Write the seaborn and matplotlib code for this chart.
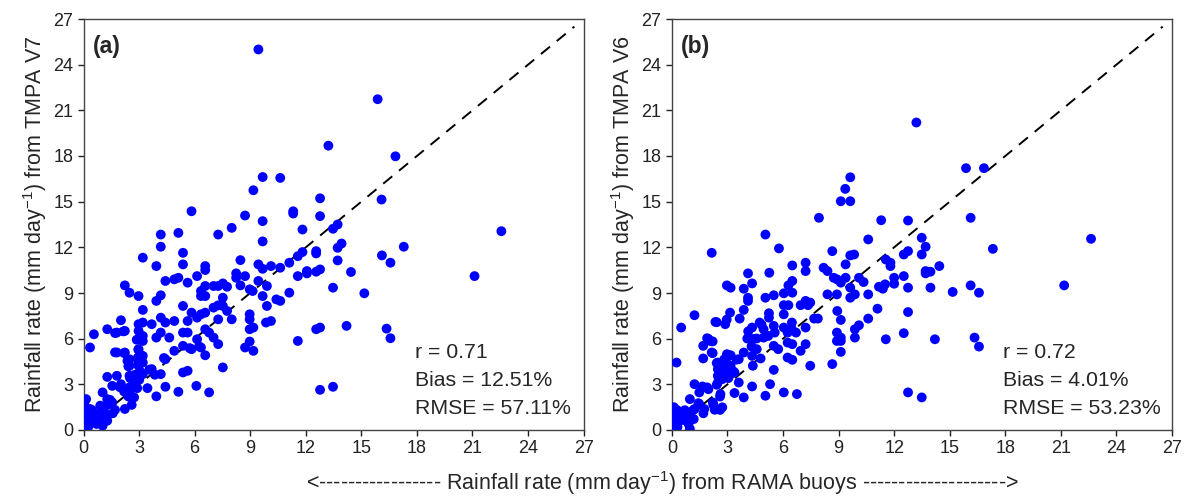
import numpy as np
import pandas as pd
import matplotlib
matplotlib.use("Agg")
import matplotlib.pyplot as plt
import seaborn as sns

# RAMA buoy (x) vs TMPA V7 (y), panel (a)
v7_x = [9.44, 15.88, 13.22, 16.84, 22.56, 21.11, 17.29, 16.09, 16.11, 16.57, 16.36, 16.57, 15.16, 14.44,
        14.2, 13.47, 12.77, 12.77, 12.56, 13.47, 13.72, 13.72, 13.93, 13.47, 13.72, 12.77, 12.77, 12.56,
        12.56, 12.77, 12.56, 12.06, 12.06, 11.82, 11.57, 11.82, 11.57, 11.32, 11.32, 11.11, 11.11, 11.57,
        10.62, 10.62, 10.62, 10.41, 10.12, 10.12, 9.85, 9.9, 9.9, 9.67, 9.67, 9.67, 9.67, 9.67, 9.44,
        9.17, 9.44, 8.97, 9.13, 8.97, 8.97, 8.97, 9.17, 8.97, 9.17, 8.72, 8.72, 8.72, 8.47, 8.47, 8.24,
        8.24, 8.0, 8.0, 7.75, 7.75, 7.52, 7.52, 7.52, 7.52, 7.27, 7.27, 7.27, 7.27, 7.27, 7.02, 7.02,
        7.02, 6.78, 6.78, 6.57, 6.57, 6.57, 6.57, 6.57, 6.57, 6.57, 6.34, 6.34, 6.34, 6.34, 6.13, 6.13,
        6.13, 6.09, 5.83, 5.83, 5.83, 5.62, 5.62, 5.62, 5.62, 5.37, 5.37, 5.37, 5.37, 5.37, 5.37, 5.12,
        5.12, 5.12, 4.9, 4.9, 4.9, 4.63, 4.42, 4.42, 4.42, 4.42, 4.17, 4.17, 4.17, 4.17, 4.17, 4.17,
        3.93, 3.93, 3.93, 3.93, 3.68, 3.68, 3.45, 3.2, 3.2, 3.2, 3.2, 3.2, 3.2, 3.2, 3.2,
        3.55, 3.85, 4.34, 6.24, 5.73,
        2.97, 2.48, 2.23, 2.02, 2.97, 2.97, 2.97, 2.97, 2.97, 2.97, 2.97, 3.05, 2.78, 2.73, 2.73, 2.48,
        2.48, 2.48, 2.48, 2.48, 2.23, 2.23, 2.23, 2.02, 1.8, 1.8, 1.8, 1.55, 1.55, 1.28, 1.28, 1.28,
        1.28, 1.28, 1.03, 1.03, 1.03, 0.56, 0.35, 0.35, 0.56, 0.14, 0.14, 0.14, 2.6, 2.42, 2.19, 1.97,
        2.51, 2.42, 2.37, 2.19, 1.7, 2.15, 1.7, 0.81, 0.99, 0.18, 0.36, 0.18, 0.09, 0.54, 1.58, 1.7,
        1.43, 1.29, 1.08, 0.45, 2.87, 2.96, 2.92, 2.96, 3.01, 2.9, 0.05, 0.25, 0.6, 0.7, 0.9]
v7_y = [25.0, 21.73, 18.68, 17.98, 13.06, 10.11, 12.04, 15.14, 11.47, 10.99, 6.66, 6.03, 8.98, 10.38,
        6.84, 2.84, 2.64, 6.73, 6.62, 9.35, 11.14, 11.97, 12.25, 13.22, 13.5, 14.05, 15.22, 11.75,
        11.6, 10.55, 10.4, 10.44, 10.29, 13.17, 11.42, 11.69, 10.11, 14.37, 14.22, 10.99, 9.02, 5.85,
        16.56, 10.66, 8.48, 8.58, 10.77, 7.16, 7.06, 9.46, 8.15, 16.62, 13.72, 12.39, 10.59, 8.8, 10.88,
        15.75, 9.79, 9.24, 9.13, 7.6, 7.27, 6.62, 6.73, 5.81, 5.2, 5.42, 14.09, 10.11, 11.16, 9.5, 10.29,
        10.0, 13.28, 7.27, 7.82, 9.41, 9.63, 8.69, 8.15, 4.11, 12.84, 9.46, 8.19, 7.27, 5.64, 8.04, 6.07,
        9.46, 2.47, 6.4, 10.77, 10.51, 9.46, 8.8, 7.71, 6.62, 4.91, 9.13, 8.8, 7.6, 5.42, 10.11, 7.38,
        5.96, 2.9, 14.37, 7.71, 5.31, 9.68, 7.16, 6.4, 3.89, 11.64, 10.88, 8.15, 6.4, 5.53, 3.78, 12.95,
        10.0, 2.51, 9.9, 7.16, 5.2, 6.07, 9.79, 7.06, 4.65, 2.84, 12.84, 12.04, 8.85, 7.38, 6.4, 3.67,
        10.77, 8.48, 6.07, 2.21, 6.95, 4.0, 2.75, 11.32, 7.89, 7.06, 6.18, 5.85, 4.87, 4.43, 3.67,
        3.96, 3.63, 4.73, 5.49, 5.38,
        8.8, 9.02, 9.5, 7.21, 6.95, 6.51, 5.96, 5.31, 4.76, 4.22, 3.34, 3.85, 3.63, 2.9, 2.14, 4.65,
        4.22, 3.56, 2.8, 2.47, 6.51, 5.09, 1.38, 3.01, 5.09, 6.4, 3.56, 2.9, 1.81, 6.62, 3.49, 2.03,
        0.94, 0.61, 2.47, 0.94, 0.28, 6.29, 5.42, 1.38, 0.83, 2.03, 1.38, 0.39, 1.65, 2.2, 2.53, 2.81,
        3.41, 4.18, 4.55, 5.05, 5.1, 6.48, 6.37, 0.99, 0.66, 0.99, 0.66, 0.33, 0.11, 0.88, 1.1, 1.32,
        1.98, 1.65, 1.32, 1.32, 5.93, 5.27, 4.73, 4.4, 3.3, 2.75, 1.7, 0.2, 1.1, 0.4, 1.6]

# RAMA buoy (x) vs TMPA V6 (y), panel (b)
v6_x = [13.2, 15.88, 16.85, 9.63, 9.36, 9.12, 9.63, 16.13, 7.94, 11.3, 12.75, 13.49, 22.63, 5.05, 10.6,
        17.33, 13.7, 5.78, 8.66, 9.84, 9.63, 12.75, 12.52, 13.49, 11.55, 11.8, 11.8, 14.44, 13.7, 13.96,
        13.7, 7.22, 7.22, 6.5, 8.19, 8.4, 9.38, 5.26, 4.11, 4.33, 3.17, 3.88, 6.29, 6.5, 9.12, 8.91,
        8.74, 9.38, 10.1, 10.35, 12.0, 12.52, 12.0, 11.51, 11.18, 11.39, 12.75, 13.96, 16.13, 21.18,
        15.16, 16.58, 9.63, 9.88, 9.63, 8.91, 8.4, 10.6, 5.05, 5.5, 6.04, 6.5, 4.11, 4.11, 7.22, 7.47,
        7.35, 6.95, 6.04, 6.29, 3.14, 3.88, 6.04, 5.24, 5.24, 8.93, 11.1, 12.75, 7.88, 7.68, 10.6, 9.12,
        3.66, 4.74, 5.5, 6.48, 7.22, 10.1, 9.88, 4.33, 4.95, 6.48, 6.7, 6.04, 6.25, 5.55, 5.2, 8.91,
        9.12, 8.91, 9.12, 12.52, 11.55, 14.2, 16.34, 16.58, 9.88, 4.07, 4.58, 4.95, 6.25, 6.5, 7.22,
        6.95, 5.5, 5.74, 9.12, 4.58, 3.88, 3.61, 4.33, 3.17, 4.79, 6.25, 6.5, 8.66, 7.47, 4.37, 3.17,
        5.5, 3.17, 3.38, 3.61, 5.3, 4.33, 6.04, 6.75, 5.05, 3.38, 3.88, 12.75, 13.49,
        3.32, 3.49, 4.12, 4.3, 4.39, 4.84,
        2.97, 2.15, 2.88, 2.35, 1.22, 0.5, 2.06, 1.9, 1.69, 1.69, 2.15, 2.97, 2.83, 2.48, 0.25, 2.97,
        2.97, 2.48, 2.93, 2.72, 2.48, 2.48, 1.22, 1.65, 1.9, 2.62, 1.48, 1.48, 2.21, 2.31, 2.72, 1.75,
        0.97, 1.22, 0.97, 1.18, 0.97, 2.96, 2.42, 1.97, 2.2, 2.2, 2.42, 2.92, 2.92, 3.05, 2.78, 2.42,
        2.6, 1.97, 1.43, 1.7, 1.16, 0.81, 1.08, 0.54, 0.27, 0.18, 0.36, 0.18, 0.63, 0.05, 0.1, 0.4,
        0.7, 0.3, 0.9, 0.15, 2.24, 2.6]
v6_y = [20.2, 17.2, 17.2, 16.6, 15.84, 15.03, 15.03, 13.94, 13.94, 13.78, 13.76, 12.63, 12.56, 12.84,
        12.52, 11.9, 12.04, 11.93, 11.75, 11.53, 11.47, 11.75, 11.53, 11.53, 11.2, 10.99, 10.77, 10.77,
        10.44, 10.4, 10.29, 10.99, 10.44, 10.81, 10.66, 10.44, 10.88, 10.33, 10.29, 9.63, 9.35, 9.28,
        9.5, 9.79, 9.68, 9.9, 10.0, 10.0, 10.0, 9.72, 10.0, 10.11, 9.61, 9.57, 9.41, 9.28, 9.35, 9.35,
        9.5, 9.5, 9.07, 9.02, 9.35, 8.91, 8.69, 8.91, 8.91, 8.91, 8.69, 8.85, 8.98, 9.02, 8.69, 8.48,
        8.48, 8.37, 8.2, 8.2, 8.2, 8.2, 7.71, 7.89, 7.6, 7.67, 7.38, 7.82, 7.97, 7.75, 7.32, 7.32, 7.32,
        7.23, 7.32, 7.06, 6.84, 7.06, 6.73, 6.88, 6.62, 6.73, 6.62, 6.62, 6.4, 6.73, 6.4, 6.4, 6.18,
        6.4, 6.07, 5.85, 5.85, 6.36, 5.96, 5.96, 6.07, 5.48, 6.07, 6.01, 6.01, 6.07, 5.74, 5.64, 5.64,
        5.2, 5.53, 5.31, 5.13, 5.31, 5.09, 4.65, 4.87, 4.91, 4.7, 4.76, 4.61, 4.33, 4.22, 4.22, 4.22,
        3.95, 3.67, 3.78, 3.12, 3.01, 2.86, 2.47, 2.36, 2.25, 2.43, 2.14, 2.47, 2.14,
        3.85, 4.62, 6.48, 5.49, 5.98, 6.92,
        9.5, 11.64, 6.95, 7.1, 7.54, 6.73, 5.85, 6.03, 5.53, 4.7, 5.09, 4.98, 4.65, 4.43, 4.43, 4.11,
        3.89, 4.0, 3.56, 3.34, 3.56, 3.12, 3.01, 2.86, 2.8, 2.36, 2.47, 1.7, 1.81, 1.33, 1.49, 1.38,
        2.03, 1.38, 0.94, 0.72, 0.07, 7.25, 7.08, 5.98, 5.82, 5.05, 4.4, 4.5, 4.18, 3.41, 3.63, 2.97,
        2.2, 2.68, 1.76, 1.1, 1.32, 0.99, 0.77, 0.99, 1.32, 0.77, 0.55, 0.33, 0.66, 0.1, 1.5, 1.1,
        1.3, 0.2, 0.4, 1.0, 1.65, 1.32]

panels = [
    ("(a)", v7_x, v7_y, "Rainfall rate (mm day$^{-1}$) from TMPA V7", ["r = 0.71", "Bias = 12.51%", "RMSE = 57.11%"]),
    ("(b)", v6_x, v6_y, "Rainfall rate (mm day$^{-1}$) from TMPA V6", ["r = 0.72", "Bias = 4.01%", "RMSE = 53.23%"]),
]
ticks = [0, 3, 6, 9, 12, 15, 18, 21, 24, 27]

sns.set_style("ticks")
plt.rcParams['font.family'] = ['Liberation Sans', 'DejaVu Sans']
plt.rcParams['mathtext.fontset'] = 'custom'
plt.rcParams['mathtext.rm'] = 'Liberation Sans'
plt.rcParams['mathtext.it'] = 'Liberation Sans:italic'

fig = plt.figure(figsize=(11.85, 5.0), dpi=100)
lefts = [0.0705, 0.567]

for left, (tag, xs, ys, ylab, stats) in zip(lefts, panels):
    ax = fig.add_axes([left, 0.14, 0.422, 0.822])
    df = pd.DataFrame({"buoy": xs, "tmpa": ys})
    sns.scatterplot(data=df, x="buoy", y="tmpa", ax=ax, color="#0000ff",
                    s=50, edgecolor="none", linewidth=0, zorder=3)
    ax.plot([0, 26.5], [0, 26.5], color="black", linestyle=(0, (6, 4.5)), linewidth=1.4, zorder=2)
    ax.set_xlim(0, 27)
    ax.set_ylim(0, 27)
    ax.set_xticks(ticks)
    ax.set_yticks(ticks)
    ax.tick_params(labelsize=13, length=4, width=1, direction="out", colors="#222222")
    ax.set_xlabel("")
    ax.set_ylabel(ylab, fontsize=15.5, labelpad=3)
    for sp in ax.spines.values():
        sp.set_visible(True)
        sp.set_linewidth(1.0)
        sp.set_color("#444444")
    ax.text(0.5, 25.2, tag, fontsize=16.5, fontweight="bold", va="center", ha="left")
    for i, line in enumerate(stats):
        ax.text(17.9, 5.1 - i * 1.85, line, fontsize=15.3, va="center", ha="left")

fig.text(0.559, 0.034,
         "<----------------- Rainfall rate (mm day$^{-1}$) from RAMA buoys -------------------->",
         ha="center", va="center", fontsize=15.5)

fig.savefig("out.png", dpi=100)
